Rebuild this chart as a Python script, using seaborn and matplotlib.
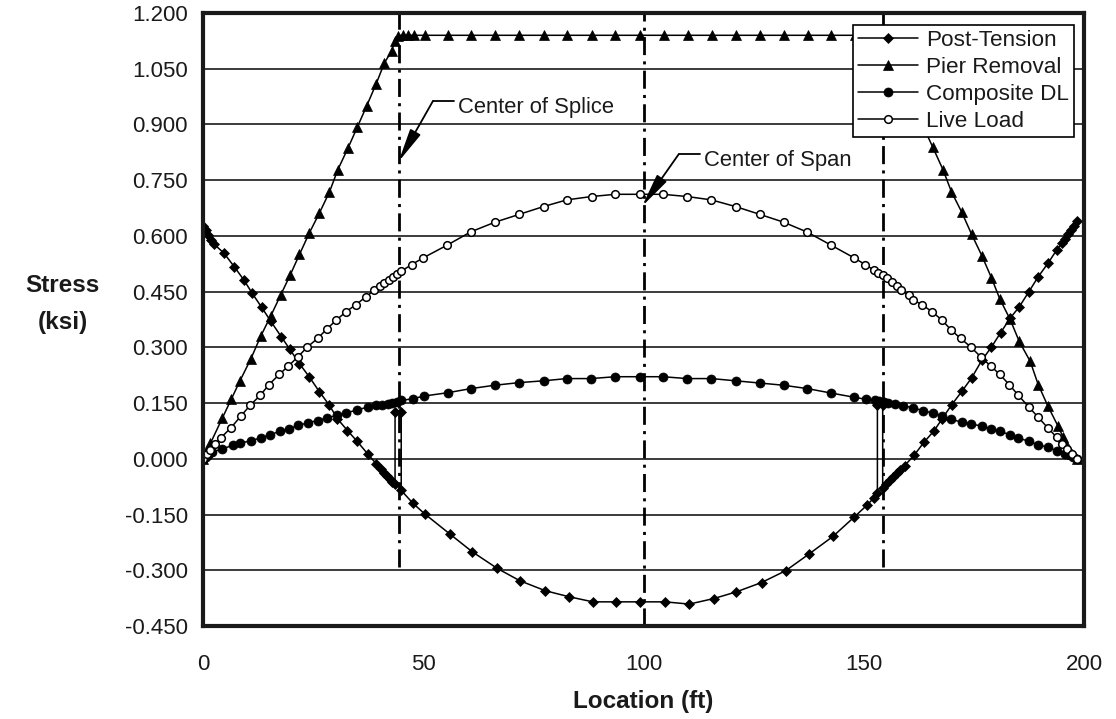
import numpy as np
import pandas as pd
import matplotlib
matplotlib.use("Agg")
import matplotlib.pyplot as plt
import seaborn as sns

# ---------------- data ----------------
pt_x = [0, 0.6, 1.2, 1.9, 2.6, 4.8, 7.1, 9.3, 11.2, 13.3, 15.4, 17.8, 19.7, 21.9, 24.1,
        26.4, 28.7, 30.5, 32.8, 35.0, 37.4, 39.3, 40.3, 41.0, 41.7, 42.4, 43.0, 43.6,
        43.6, 45.0, 45.0, 47.6, 50.3, 56.0, 61.1, 66.8, 71.9, 77.7, 83.0, 88.5, 93.8,
        99.3, 104.9, 110.4, 116.0, 121.1, 126.8, 132.3, 137.6, 143.0, 147.9, 150.8,
        152.3, 153.1, 153.1, 154.3, 154.3, 155.1, 155.9, 156.7, 157.5, 158.3, 159.3,
        161.4, 163.7, 166.0, 167.8, 170.0, 172.3, 174.5, 176.8, 179.0, 181.1, 183.2,
        185.3, 187.5, 189.6, 191.8, 193.8, 195.0, 195.7, 196.4, 197.1, 197.8, 198.4]
pt_y = [0.627, 0.615, 0.603, 0.590, 0.577, 0.553, 0.517, 0.481, 0.445, 0.408, 0.370,
        0.328, 0.295, 0.256, 0.221, 0.181, 0.144, 0.108, 0.076, 0.047, 0.013, -0.013,
        -0.028, -0.038, -0.047, -0.055, -0.062, -0.068, 0.127, 0.127, -0.085, -0.119,
        -0.148, -0.202, -0.250, -0.295, -0.328, -0.355, -0.371, -0.385, -0.385, -0.385,
        -0.385, -0.391, -0.376, -0.358, -0.333, -0.301, -0.256, -0.209, -0.156, -0.124,
        -0.105, -0.092, 0.144, 0.144, -0.078, -0.068, -0.058, -0.048, -0.039, -0.030,
        -0.018, 0.009, 0.045, 0.076, 0.108, 0.146, 0.182, 0.218, 0.265, 0.301, 0.340,
        0.378, 0.409, 0.450, 0.490, 0.526, 0.562, 0.580, 0.592, 0.604, 0.616, 0.628, 0.640]

pr_x = [0, 0.5, 1.0, 1.7, 4.4, 6.4, 8.4, 10.9, 13.1, 15.4, 17.6, 19.8, 21.9, 24.1, 26.4,
        28.7, 30.6, 32.9, 35.0, 37.2, 39.3, 41.2, 42.8, 43.5, 44.3, 45.4, 46.5, 47.8,
        50.3, 55.6, 60.9, 66.3, 71.8, 77.3, 82.7, 88.2, 93.6, 99.1, 104.6, 110.0, 115.5,
        121.0, 126.4, 131.9, 137.4, 142.6, 148.0, 153.5, 154.3, 156.5, 158.8, 161.0,
        163.3, 165.7, 168.0, 169.9, 172.2, 174.5, 176.8, 179.0, 180.9, 183.2, 185.3,
        187.8, 189.6, 191.8, 194.1, 195.2, 196.2, 197.2, 198.4]
pr_y = [0, 0.012, 0.025, 0.042, 0.110, 0.160, 0.210, 0.270, 0.330, 0.385, 0.440, 0.495,
        0.550, 0.607, 0.661, 0.718, 0.778, 0.836, 0.892, 0.951, 1.009, 1.066, 1.097,
        1.124, 1.139, 1.140, 1.140, 1.140, 1.140, 1.140, 1.140, 1.140, 1.140, 1.140,
        1.140, 1.140, 1.140, 1.140, 1.140, 1.140, 1.140, 1.140, 1.140, 1.140, 1.140,
        1.140, 1.140, 1.140, 1.140, 1.080, 1.020, 0.960, 0.900, 0.838, 0.778, 0.719,
        0.665, 0.604, 0.547, 0.487, 0.430, 0.376, 0.316, 0.262, 0.200, 0.142, 0.088,
        0.060, 0.035, 0.012, 0.0]

cd_x = [0, 0.3, 0.7, 1.2, 2.1, 4.4, 6.7, 8.5, 10.9, 13.1, 15.2, 17.5, 19.6, 21.6, 23.9,
        26.0, 28.1, 30.4, 32.5, 35.0, 37.4, 39.3, 40.7, 41.9, 43.0, 44.0, 45.0, 47.7,
        50.2, 55.6, 60.8, 66.2, 71.7, 77.3, 82.6, 88.1, 93.6, 99.1, 104.4, 109.9, 115.4,
        120.9, 126.4, 131.8, 137.2, 142.6, 147.7, 150.6, 152.5, 153.5, 154.5, 155.5,
        157.0, 159.0, 161.2, 163.4, 165.7, 167.8, 169.9, 172.2, 174.3, 176.8, 178.8,
        180.9, 183.2, 185.1, 187.5, 189.6, 191.8, 193.8, 195.7, 196.8, 197.6, 198.4]
cd_y = [0, 0.003, 0.006, 0.010, 0.018, 0.027, 0.036, 0.042, 0.049, 0.056, 0.065, 0.074,
        0.081, 0.090, 0.097, 0.103, 0.110, 0.117, 0.123, 0.132, 0.139, 0.144, 0.146,
        0.148, 0.150, 0.152, 0.157, 0.162, 0.169, 0.178, 0.189, 0.198, 0.205, 0.210,
        0.216, 0.216, 0.221, 0.221, 0.221, 0.216, 0.216, 0.210, 0.204, 0.198, 0.189,
        0.177, 0.166, 0.160, 0.157, 0.156, 0.153, 0.150, 0.147, 0.143, 0.137, 0.130,
        0.123, 0.115, 0.106, 0.099, 0.094, 0.088, 0.081, 0.074, 0.065, 0.056, 0.047,
        0.038, 0.031, 0.022, 0.013, 0.009, 0.005, 0.0]

ll_x = [0, 0.8, 1.6, 2.8, 4.0, 6.3, 8.6, 10.7, 13.0, 15.0, 17.3, 19.4, 21.5, 23.7, 26.0,
        28.1, 30.2, 32.5, 34.7, 37.0, 38.9, 40.2, 41.2, 42.2, 43.2, 44.1, 45.0, 47.4,
        50.0, 55.4, 60.8, 66.3, 71.8, 77.3, 82.6, 88.2, 93.6, 99.1, 104.4, 109.9, 115.4,
        120.9, 126.4, 131.8, 137.2, 142.6, 147.8, 150.3, 152.3, 153.3, 154.3, 155.3,
        156.5, 157.5, 158.5, 160.2, 161.2, 163.2, 165.5, 167.8, 169.9, 172.0, 174.3,
        176.6, 178.8, 180.9, 183.0, 185.1, 187.5, 189.6, 191.8, 193.8, 195.0, 196.2,
        197.3, 198.4]
ll_y = [0, 0.012, 0.024, 0.040, 0.056, 0.083, 0.115, 0.144, 0.171, 0.200, 0.227, 0.250,
        0.274, 0.301, 0.324, 0.349, 0.373, 0.396, 0.415, 0.436, 0.454, 0.466, 0.474,
        0.482, 0.490, 0.497, 0.505, 0.523, 0.541, 0.575, 0.611, 0.637, 0.658, 0.679,
        0.697, 0.706, 0.712, 0.712, 0.712, 0.706, 0.697, 0.679, 0.658, 0.637, 0.610,
        0.575, 0.541, 0.523, 0.508, 0.501, 0.494, 0.486, 0.475, 0.465, 0.454, 0.440,
        0.428, 0.415, 0.396, 0.373, 0.346, 0.324, 0.301, 0.274, 0.250, 0.227, 0.200,
        0.171, 0.139, 0.112, 0.083, 0.058, 0.040, 0.027, 0.013, 0.0]

series_names = ["Post-Tension", "Pier Removal", "Composite DL", "Live Load"]
y_ticks = [-0.45, -0.30, -0.15, 0.0, 0.15, 0.30, 0.45, 0.60, 0.75, 0.90, 1.05, 1.20]
x_ticks = [0, 50, 100, 150, 200]

splice_x = [44.6, 154.4]
span_x = 100

# ---------------- style ----------------
sns.set_style("white")
plt.rcParams['font.family'] = ['Liberation Sans', 'DejaVu Sans']
plt.rcParams['lines.scale_dashes'] = False

fig = plt.figure(figsize=(11.16, 7.19), dpi=100)
ax = fig.add_axes([203 / 1116, 1 - 626 / 719, 881 / 1116, 613 / 719])

ax.set_xlim(0, 200)
ax.set_ylim(-0.45, 1.2)

# horizontal gridlines
for yv in y_ticks:
    ax.axhline(yv, color='#1a1a1a', lw=1.2, zorder=1)

# vertical dash-dot reference lines
dd = (0, (13, 4.5, 2.2, 4.5))
for sx in splice_x:
    ax.plot([sx, sx], [-0.29, 1.2], color='black', lw=2.0, linestyle=dd, zorder=2)
ax.plot([span_x, span_x], [-0.45, 1.2], color='black', lw=2.0, linestyle=dd, zorder=2)

common = dict(ax=ax, color='black', linewidth=1.1, sort=False, estimator=None,
              markeredgecolor='black', zorder=3)
sns.lineplot(x=pt_x, y=pt_y, marker='D', markersize=5.5, markeredgewidth=0.5,
             label=series_names[0], **common)
sns.lineplot(x=pr_x, y=pr_y, marker='^', markersize=7.5, markeredgewidth=0.5,
             label=series_names[1], **common)
sns.lineplot(x=cd_x, y=cd_y, marker='o', markersize=6.5, markeredgewidth=0.5,
             label=series_names[2], **common)
sns.lineplot(x=ll_x, y=ll_y, marker='o', markersize=5.5, markeredgewidth=1.1,
             markerfacecolor='white', label=series_names[3], **common)

# annotations
arrow = dict(arrowstyle='-|>,head_length=1.7,head_width=0.3', mutation_scale=12,
             lw=1.3, color='black', shrinkA=0, shrinkB=0)
splice_tip, splice_elbow, splice_end = (44.4, 0.80), (52.2, 0.963), (57.0, 0.963)
span_tip, span_elbow, span_end = (99.7, 0.68), (108.0, 0.82), (112.8, 0.82)
for tip, elbow, end, txt in [(splice_tip, splice_elbow, splice_end, "Center of Splice"),
                             (span_tip, span_elbow, span_end, "Center of Span")]:
    ax.plot([elbow[0], end[0]], [elbow[1], end[1]], color='black', lw=1.3, zorder=4)
    ax.annotate('', xy=tip, xytext=elbow, arrowprops=arrow, zorder=4)
    ax.text(end[0] + 1.0, end[1] - 0.018, txt, fontsize=15.8, va='center', ha='left',
            color='#1a1a1a', zorder=4)

# axes styling
ax.set_xticks(x_ticks)
ax.set_yticks(y_ticks)
ax.set_yticklabels([f"{v:.3f}" for v in y_ticks])
ax.tick_params(axis='x', direction='in', length=5, width=1.2, pad=20,
               labelsize=16, colors='#1a1a1a', labelcolor='#1a1a1a')
ax.tick_params(axis='y', length=0, pad=11, labelsize=16, labelcolor='#1a1a1a')
for sp in ax.spines.values():
    sp.set_linewidth(3.0)
    sp.set_color('#1a1a1a')
    sp.set_zorder(6)

ax.set_xlabel("Location (ft)", fontsize=17.5, fontweight='bold', labelpad=11,
              color='#1a1a1a')
ax.set_ylabel("")
fig.text(62 / 1116, 1 - 286 / 719, "Stress", fontsize=17.5, fontweight='bold',
         ha='center', va='center', color='#1a1a1a')
fig.text(63 / 1116, 1 - 322 / 719, "(ksi)", fontsize=17.5, fontweight='bold',
         ha='center', va='center', color='#1a1a1a')

leg = ax.legend(loc='upper right', bbox_to_anchor=(0.9886, 0.980), borderaxespad=0,
                prop={'size': 16.2}, frameon=True, fancybox=False, shadow=False,
                handlelength=2.7, handletextpad=0.35, labelspacing=0.26,
                borderpad=0.22, framealpha=1)
leg.get_frame().set_edgecolor('black')
leg.get_frame().set_linewidth(1.2)
for t in leg.get_texts():
    t.set_color('#1a1a1a')
leg.set_zorder(7)

fig.savefig("out.png", dpi=100)
